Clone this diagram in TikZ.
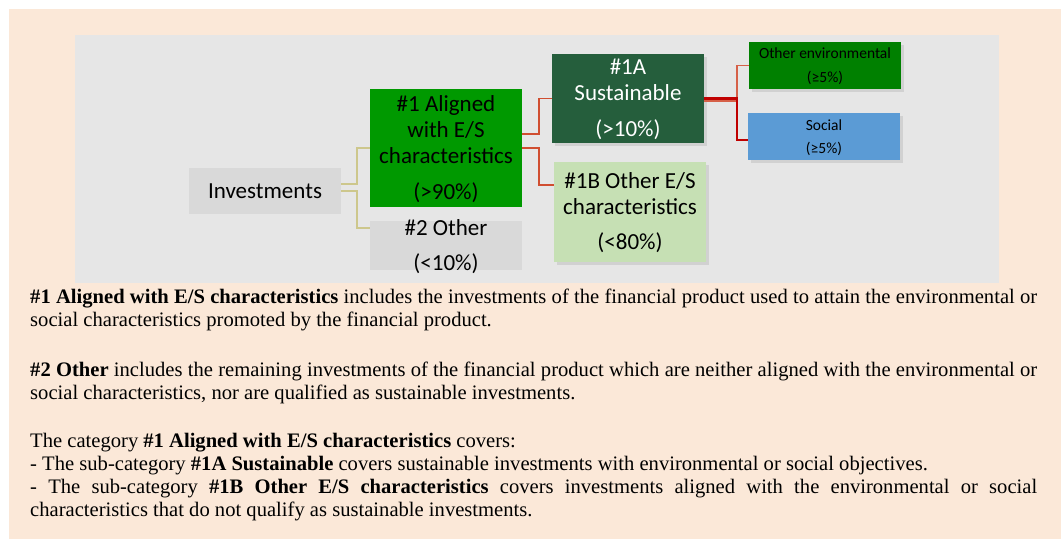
\documentclass[tikz,border=0pt]{standalone}
\usepackage{fontspec}
\setmainfont{Liberation Serif}
\newfontfamily\carlito{Carlito}
\usetikzlibrary{positioning,shadows}
\definecolor{pagepeach}{RGB}{251,232,216}
\definecolor{panelgrey}{RGB}{230,230,230}
\definecolor{boxgrey}{RGB}{217,217,217}
\definecolor{alignedgreen}{RGB}{0,153,0}
\definecolor{sustgreen}{RGB}{37,94,60}
\definecolor{othesgreen}{RGB}{198,224,180}
\definecolor{envgreen}{RGB}{0,128,0}
\definecolor{socialblue}{RGB}{91,155,213}
\definecolor{feedkhaki}{RGB}{205,199,140}
\definecolor{splitred}{RGB}{208,78,48}
\definecolor{lightred}{RGB}{214,96,72}
\definecolor{deepred}{RGB}{192,0,0}
\tikzset{
    plain box/.style={rectangle, inner sep=0pt, draw=none, minimum width=152pt},
    grey box/.style={plain box, fill=boxgrey},
    shadow box/.style={plain box, drop shadow={shadow xshift=2.5pt, shadow yshift=-3pt, opacity=0.2}},
    box text/.style={align=center, inner sep=0pt, font=\carlito\fontsize{23}{26}\selectfont},
    small text/.style={align=center, inner sep=0pt, font=\carlito\fontsize{15.5}{24}\selectfont},
    feed line/.style={draw=feedkhaki, line width=1.6pt},
    split line/.style={draw=splitred, line width=1.6pt},
    para/.style={anchor=base west, inner sep=0pt, text width=1007pt, align=justify,
        font=\fontsize{20.6}{23.3}\selectfont}
}

\begin{document}
\begin{tikzpicture}[x=1pt, y=-1pt]
    % Page and panel
    \useasboundingbox (0,0) rectangle (1061,539);
    \fill[white] (0,0) rectangle (1061,539);
    \fill[pagepeach] (9,9) rectangle (1061,539);
    \fill[panelgrey] (75,35) rectangle (999,283);

    % Boxes
    \node[grey box, minimum height=46pt] (inv) at (265,191) {};
    \node[plain box, fill=alignedgreen, minimum height=118pt] (aligned) at (446,148) {};
    \node[grey box, minimum height=49pt] (other) at (446,245.5) {};
    \node[shadow box, fill=sustgreen, minimum height=89pt] (sust) at (628,98.5) {};
    \node[shadow box, fill=othesgreen, minimum height=100pt] (othes) at (630,212) {};
    \node[shadow box, fill=envgreen, minimum height=47pt] (env) at (825,65.5) {};
    \node[shadow box, fill=socialblue, minimum height=47pt] (social) at (824,136.5) {};

    % Box texts
    \node[box text] (inv-t) at (inv.center) {Investments};
    \node[box text] (aligned-t) at ([yshift=-1.5pt]aligned.center) {\#1 Aligned\\with E/S\\characteristics\\[10pt](>90\%)};
    \node[box text] (other-t) at ([yshift=-1pt]other.center) {\#2 Other\\[9pt](<10\%)};
    \node[box text, white] (sust-t) at ([yshift=-1pt]sust.center) {\#1A\\Sustainable\\[10pt](>10\%)};
    \node[box text] (othes-t) at ([yshift=-1pt]othes.center) {\#1B Other E/S\\characteristics\\[9pt](<80\%)};
    \node[small text] (env-t) at ([yshift=-1pt]env.center) {Other environmental\\(≥5\%)};
    \node[small text, font=\carlito\fontsize{15.5}{23}\selectfont] (social-t) at ([yshift=-1pt]social.center) {Social\\(≥5\%)};

    % Connectors
    \draw[feed line] ([yshift=7pt]inv.east) -- ++(16,0) |- (aligned.west);
    \draw[feed line] (inv.east) -- ++(16,0) |- ([yshift=17.5pt]other.west);
    \draw[split line] ([yshift=14pt]aligned.east) -- ++(17,0) |- (sust.west);
    \draw[split line] (aligned.east) -- ++(17,0) |- ([yshift=27pt]othes.west);
    \draw[draw=lightred, line width=1.6pt] ([yshift=-2.5pt]sust.east) -- ++(33,0) |- (env.west);
    \draw[draw=deepred, line width=2.4pt] (sust.east) -- ++(33,0) |- ([yshift=-3.5pt]social.west);

    % Explanations
    \node[para] (para1) at (30,303) {\textbf{\#1 Aligned with E/S characteristics} includes the investments of the financial product used to attain the environmental or\linebreak social characteristics promoted by the financial product.};
    \node[para] (para2) at (30,376) {\textbf{\#2 Other} includes the remaining investments of the financial product which are neither aligned with the environmental or\linebreak social characteristics, nor are qualified as sustainable investments.};
    \node[para] (para3) at (30,447) {The category \textbf{\#1 Aligned with E/S characteristics} covers:\\
        - The sub-category \textbf{\#1A Sustainable} covers sustainable investments with environmental or social objectives.\\
        - The sub-category \textbf{\#1B Other E/S characteristics} covers investments aligned with the environmental or social\linebreak characteristics that do not qualify as sustainable investments.};
\end{tikzpicture}
\end{document}
